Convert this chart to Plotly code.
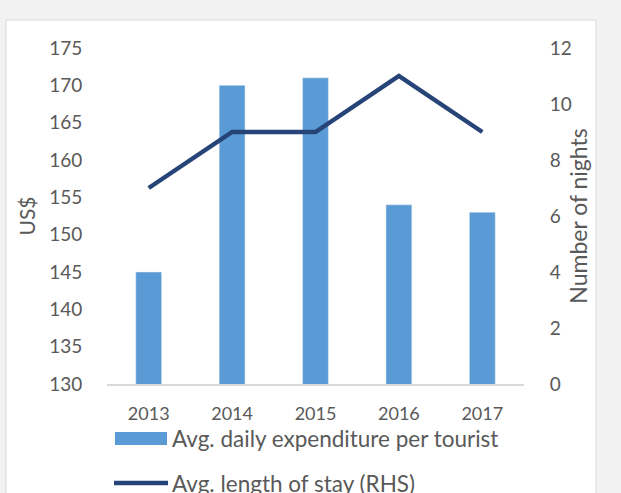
import plotly.graph_objects as go

years = ["2013", "2014", "2015", "2016", "2017"]
expenditure = [145, 170, 171, 154, 153]
stay_nights = [7, 9, 9, 11, 9]
bar_name = "Avg. daily expenditure per tourist"
line_name = "Avg. length of stay (RHS)"

W, H = 621, 493
ML, MR, MT, MB = 107, 97, 48, 109
PW, PH = W - ML - MR, H - MT - MB

def px(x):
    return (x - ML) / PW

def py(y):
    return (H - MB - y) / PH

BAR_C = "#5b9bd5"
LINE_C = "#264478"
TXT = "#595959"
FONT = "Lato"

fig = go.Figure()
fig.add_trace(go.Bar(x=years, y=expenditure, name=bar_name, marker_color=BAR_C,
                     width=0.31, yaxis="y"))
fig.add_trace(go.Scatter(x=years, y=stay_nights, name=line_name, mode="lines",
                         line=dict(color=LINE_C, width=4.5), yaxis="y2"))

shapes = [
    dict(type="rect", xref="paper", yref="paper", x0=px(6), x1=px(596), y0=py(500), y1=py(20),
         fillcolor="white", line=dict(color="#d9d9d9", width=1), layer="below"),
    dict(type="rect", xref="paper", yref="paper", x0=px(115), x1=px(167), y0=py(445), y1=py(432),
         fillcolor=BAR_C, line=dict(width=0)),
    dict(type="line", xref="paper", yref="paper", x0=px(114), x1=px(168), y0=py(483), y1=py(483),
         line=dict(color=LINE_C, width=4.5)),
]
annotations = [
    dict(text=bar_name, xref="paper", yref="paper", x=px(170), y=py(438), xanchor="left",
         yanchor="middle", showarrow=False, font=dict(family=FONT, size=22.5, color=TXT)),
    dict(text=line_name, xref="paper", yref="paper", x=px(170), y=py(483), xanchor="left",
         yanchor="middle", showarrow=False, font=dict(family=FONT, size=22.5, color=TXT)),
]

fig.update_layout(
    width=W, height=H,
    margin=dict(l=ML, r=MR, t=MT, b=MB, pad=0),
    paper_bgcolor="#f2f2f2",
    plot_bgcolor="rgba(0,0,0,0)",
    showlegend=False,
    font=dict(family=FONT, color=TXT, size=18),
    bargap=0.69,
    xaxis=dict(type="category", showline=True, linecolor="#d9d9d9", linewidth=1.5,
               showgrid=False, ticks="outside", ticklen=13, tickcolor="rgba(0,0,0,0)",
               tickfont=dict(size=18, color=TXT)),
    yaxis=dict(range=[130, 175], dtick=5, showgrid=False, zeroline=False, showline=False,
               ticks="outside", ticklen=20, tickcolor="rgba(0,0,0,0)",
               tickfont=dict(size=19, color=TXT),
               title=dict(text="US$", font=dict(size=21, color=TXT), standoff=7)),
    yaxis2=dict(range=[0, 12], dtick=2, overlaying="y", side="right", showgrid=False,
                zeroline=False, showline=False, ticks="outside", ticklen=21,
                tickcolor="rgba(0,0,0,0)", tickfont=dict(size=19, color=TXT),
                title=dict(text="Number of nights", font=dict(size=23, color=TXT), standoff=0)),
    shapes=shapes,
    annotations=annotations,
)

fig.write_html("out.html", config={"displayModeBar": False},
               post_script="document.body.style.margin='0';")
